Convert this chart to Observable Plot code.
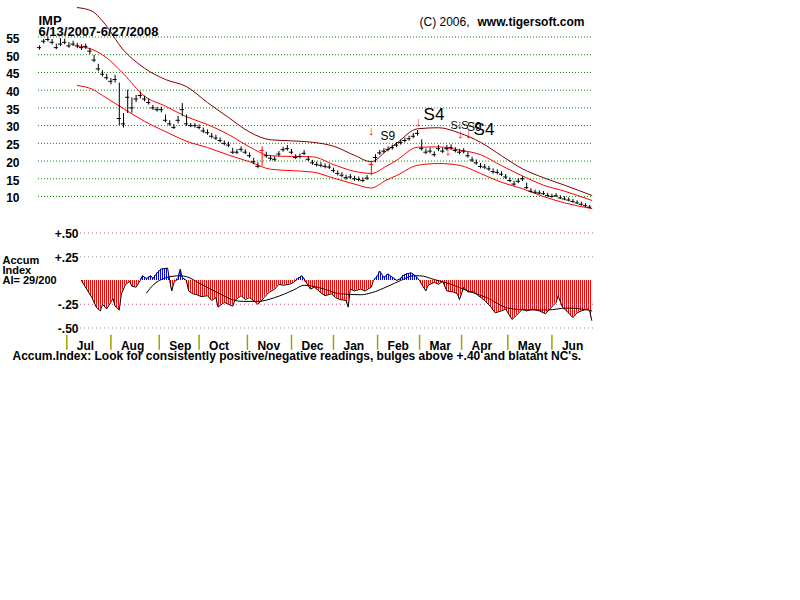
<!DOCTYPE html>
<html><head><meta charset="utf-8">
<script src="https://cdn.jsdelivr.net/npm/d3@7"></script>
<script src="https://cdn.jsdelivr.net/npm/@observablehq/plot@0.6"></script>
<style>
body{margin:0;background:#fff;}
#wrap{position:relative;width:800px;height:600px;overflow:hidden;background:#fff;}
#wrap svg{position:absolute;left:0;top:0;}
</style></head><body><div id="wrap"></div>
<script>
// ---- price data: one bar every 2 trading days, day index = 2*k (day 0 = 6/13/2007)
const closes = [
52,53.8,54.3,53.5,52,53,53.5,52.5,53,52.5,
52,52.3,51,48.5,46,44.5,43.5,42.5,43,32,
30.5,38,35,37.5,38.5,37.5,36.5,35,34.5,34.5,
31.5,30.5,29.5,31.5,34.5,30.5,30,30,29.5,28.5,
28,27,26.5,25.8,25,24.5,22.5,22.5,23.3,22.5,
21.5,19.8,18.5,23,21.5,20.8,20.5,22,23.2,23.5,
22.5,21,21.3,22.2,20.5,19.5,19,18.8,18.5,18.3,
17.3,16.5,16,15.3,15.5,15,14.8,14.5,15.2,19,
21,22.3,22.8,23.3,23.8,24.5,25.2,25.8,26.3,27,
27.8,23.5,22.5,22.8,21.8,23.5,22.8,23.5,23.8,23,
22.5,22.8,21.5,20.3,19.5,18.5,18.3,17.8,17,16.8,
16.3,15.5,14.5,13.5,14.3,15,12.5,11.5,11.2,11,
10.8,10.3,10,10.2,9.6,9.3,9,8.6,8.2,7.8,
7.4,7];
const highs = [
52.5,54.3,55,54.3,53,54.5,54.4,53.4,53.8,53.2,
52.8,53,51.8,49.8,47.3,45.5,44.5,43.3,44.2,42,
33.4,40,37.8,38.5,39.5,38.3,37.5,35.7,35.2,35.2,
33,31.4,30.3,32.6,36.2,33,30.6,30.6,30.2,29.3,
28.8,27.8,27.3,26.5,25.7,25.3,23.6,23.2,24,23.2,
22.3,20.8,19.5,24,22.5,21.5,21.2,22.7,23.9,24.4,
23.3,21.8,22,23,21.3,20.2,19.7,19.5,19.2,19,
18,17.2,16.7,16,16.2,15.7,15.5,15.2,15.9,19.8,
21.8,23,23.5,24,24.5,25.2,25.9,26.5,27,27.8,
28.6,26,23.4,23.6,22.6,24.4,23.6,24.4,24.6,23.8,
23.3,23.5,22.4,21.1,20.3,19.3,19,18.5,17.8,17.5,
17,16.2,15.3,14.3,15,15.6,13.8,12.2,11.8,11.6,
11.4,10.9,10.6,10.8,10.2,9.9,9.6,9.2,8.8,8.4,
8,7.5];
const lows = [
51.3,53,53.6,52.8,51.4,52.3,52.8,51.8,52.3,51.7,
51.2,51.5,50,47.8,45.2,43.7,42.8,41.5,42,30,
29.3,33.4,33.5,36.5,37.5,36.7,35.8,34.3,33.8,33.6,
30.8,29.8,28.9,30.5,32.5,29.8,29.4,29.3,28.8,27.8,
27.3,26.3,25.8,25.1,24.3,23.8,21.9,21.8,22.5,21.8,
20.8,19,17.8,18.5,20.8,20,19.8,21.2,22.5,22.8,
21.8,20.4,20.6,21.5,19.8,18.8,18.3,18.1,17.8,17.6,
16.6,15.8,15.3,14.6,14.8,14.3,14.1,13.9,14.5,15.8,
19.5,21.6,22.1,22.6,23.1,23.8,24.5,25.1,25.6,26.3,
27,22.8,21.8,22,21.1,22.7,22.1,22.8,23,22.3,
21.8,22,20.8,19.6,18.8,17.8,17.6,17.1,16.3,16.1,
15.6,14.8,13.9,12.9,13.6,14.2,12,11,10.7,10.5,
10.3,9.8,9.5,9.7,9.1,8.8,8.5,8.1,7.7,7.3,
6.9,6.5];
const redBars = [53, 79];

// ---- bands
const bandDay   = [18,25,30,40,50,60,70,80,90,100,110,120,130,140,150,158,165,170,180,190,200,210,220,230,240,250,263];
const upperBand = [63.3,62.3,59.5,51.3,46.2,43,41,36.5,32.3,28.2,26,25.7,25.3,24.2,21.6,19.8,22.8,25,29.1,29.4,27.9,25.3,21.5,17.8,15.3,13.2,10.3];
const midBand   = [52.5,51.5,50,44.6,38.3,35.5,32.5,30.3,27.5,24,21.5,21.3,21.2,19,17.1,16.5,18.5,20.2,23.9,24,23.1,21.8,18.7,15.8,13.2,11.5,8.9];
const lowerBand = [41.3,40.3,38.5,34.8,31.2,28.3,25.6,23.8,21.7,19.8,17.7,17.3,16.9,15.2,13.5,12.4,14.6,15.9,18.8,19.3,18.8,16.5,14,12.2,10,8.2,6.6];

const priceTicks = [10,15,20,25,30,35,40,45,50,55];

// ---- signals
const arrowDay   = [158, 180.5, 194.5, 200.5, 204.3];
const arrowPrice = [28.6, 31.2, 23, 27.6, 27.6];
const sigText  = ["S9","S4","S","\u2193","S","S9","S4"];
const sigDay   = [162.4,182.9,195.7,198.6,200.8,203.6,206.7];
const sigPrice = [26.9,33.1,30.1,30.1,30.1,29.7,29];
const sigSize  = [12,17,11,12,11,12,17];

// ---- accumulation index
const aiDay = [20,23,25,27,29,30,32,35,36,38,
39,41,43,44,46,48,49,51,53,54,
56,58,61,62,63,64,66,67,68,70,
71,73,75,77,80,82,84,85,88,90,
92,93,96,98,100,103,104,107,109,112,
114,116,119,121,123,125,127,129,131,134,
136,139,141,143,146,147,148,150,153,155,
158,159,161,162,164,166,167,169,170,172,
173,175,177,179,181,182,184,185,188,190,
192,194,197,199,200,202,204,207,209,212,
215,217,220,222,225,227,230,232,235,238,
241,243,246,247,249,251,254,256,258,261,
262,263];
const aiVal = [0,-0.11,-0.18,-0.28,-0.32,-0.25,-0.30,-0.19,-0.27,-0.31,
-0.14,-0.04,-0.01,-0.06,-0.07,0,0.05,0.02,0.05,0.02,
0.08,0.12,0.13,0,-0.11,-0.02,0.02,0.12,0.03,0,
-0.11,-0.14,-0.15,-0.17,-0.16,-0.21,-0.18,-0.28,-0.23,-0.25,
-0.27,-0.21,-0.16,-0.20,-0.18,-0.23,-0.25,-0.18,-0.13,-0.09,
-0.04,-0.05,-0.04,-0.02,0.02,0.05,-0.02,-0.09,-0.07,-0.13,
-0.16,-0.14,-0.18,-0.20,-0.21,-0.28,-0.09,-0.11,-0.09,-0.11,
-0.07,0,0.05,0.10,0.03,0.07,0.05,0.02,0,0.02,
0.05,0.07,0.08,0.05,0,-0.04,-0.11,-0.05,-0.02,-0.04,
-0.01,-0.11,-0.12,-0.14,-0.20,-0.07,-0.12,-0.12,-0.16,-0.21,
-0.28,-0.34,-0.32,-0.30,-0.41,-0.37,-0.30,-0.32,-0.30,-0.32,
-0.35,-0.30,-0.23,-0.16,-0.28,-0.32,-0.39,-0.34,-0.32,-0.30,
-0.32,-0.42];
const aiMaDay = [51,54,58,62,67,70,77,85,93,97,104,112,121,126,134,143,153,158,166,172,178,181,188,196,204,213,223,232,242,251,261,263];
const aiMaVal = [-0.13,-0.05,0.01,0.04,0.05,0.04,-0.04,-0.13,-0.21,-0.22,-0.22,-0.18,-0.10,-0.05,-0.08,-0.14,-0.15,-0.13,-0.06,0,0.05,0.05,0.01,-0.04,-0.11,-0.18,-0.29,-0.31,-0.31,-0.29,-0.31,-0.32];
const aiTicks = [0.5, 0.25, -0.25, -0.5];
const aiTickLabels = ["+.50", "+.25", "-.25", "-.50"];
const aiGridColor = ["#c04890", "#909090", "#c04890", "#909090"];

// ---- months
const monthDay = [13,34,57,76,99,120,140,161,181,201,223,244];
const monthLabel = ["Jul","Aug","Sep","Oct","Nov","Dec","Jan","Feb","Mar","Apr","May","Jun"];

// ---------------------------------------------------------------
const FONT = "'Liberation Sans', Arial, sans-serif";
const X = {type: "linear", domain: [0, 263], range: [39, 591.3], axis: null};

const bars = closes.map((c, k) => ({day: k * 2, c, h: highs[k], l: lows[k], red: redBars.includes(k)}));
const bands = bandDay.map((d, i) => ({day: d, u: upperBand[i], m: midBand[i], l: lowerBand[i]}));
const arrows = arrowDay.map((d, i) => ({day: d, p: arrowPrice[i]}));
const sigs = sigText.map((t, i) => ({t, day: sigDay[i], p: sigPrice[i], s: sigSize[i]}));
const ai = aiDay.map((d, i) => ({day: d, v: aiVal[i]}));
const aiMa = aiMaDay.map((d, i) => ({day: d, v: aiMaVal[i]}));
const aiGrid = aiTicks.map((v, i) => ({v, lab: aiTickLabels[i], col: aiGridColor[i]}));

function label(t, x, y, size, weight = "bold", anchor = "start", extra = {}) {
  return Plot.text([t], {text: d => d, frameAnchor: "top-left", dx: x, dy: y, fontSize: size,
    fontWeight: weight, textAnchor: anchor, lineAnchor: "bottom", fill: "black", ...extra});
}

// ---- bottom layer: accumulation index panel
const aiPlot = Plot.plot({
  width: 800, height: 600, margin: 0,
  style: {background: "transparent", fontFamily: FONT},
  x: X,
  y: {type: "linear", domain: [-0.5, 0.5], range: [327.5, 232.5], axis: null},
  marks: [
    Plot.areaY(ai, {x: "day", y1: 0, y2: d => Math.min(d.v, 0), fill: "url(#stripeRed)"}),
    Plot.areaY(ai, {x: "day", y1: 0, y2: d => Math.max(d.v, 0), fill: "url(#stripeBlue)"}),
    ...aiGrid.map(g => Plot.ruleY([g.v], {x1: 19.5, x2: 265, stroke: g.col, strokeWidth: 1, strokeDasharray: "1,3"})),
    Plot.text(aiGrid, {y: "v", text: "lab", frameAnchor: "left", dx: 78, dy: 1, textAnchor: "end",
      fontSize: 12, fontWeight: "bold", fill: "black"}),
    Plot.line(ai, {x: "day", y: "v", stroke: "black", strokeWidth: 1}),
    Plot.line(aiMa, {x: "day", y: "v", stroke: "black", strokeWidth: 1, curve: "monotone-x"}),
    Plot.ruleX(monthDay, {x: d => d, y1: -0.576, y2: -0.735, stroke: "#a0a000", strokeWidth: 1.5}),
    Plot.text(monthDay, {x: d => d, frameAnchor: "top", dy: 349.5, dx: 10, text: (d, i) => monthLabel[i],
      textAnchor: "start", lineAnchor: "bottom", fontSize: 12, fontWeight: "bold", fill: "black"})
  ]
});
d3.select(aiPlot).insert("defs", ":first-child").html(
  '<pattern id="stripeRed" patternUnits="userSpaceOnUse" x="0" y="0" width="2" height="4">' +
  '<rect x="0" y="0" width="1" height="4" fill="#ff0000"/></pattern>' +
  '<pattern id="stripeBlue" patternUnits="userSpaceOnUse" x="0" y="0" width="2" height="4">' +
  '<rect x="0" y="0" width="1" height="4" fill="#0000ff"/></pattern>');

// ---- top layer: price panel + texts
const pricePlot = Plot.plot({
  width: 800, height: 600, margin: 0,
  style: {background: "transparent", fontFamily: FONT},
  x: X,
  y: {type: "linear", domain: [10, 55], range: [196, 36.5], axis: null},
  marks: [
    Plot.ruleY(priceTicks, {y: d => d, x1: -0.5, x2: 263.5, stroke: "#008000", strokeWidth: 1, strokeDasharray: "1,2"}),
    Plot.text(priceTicks, {y: d => d, text: d => String(d), frameAnchor: "left", dx: 19, dy: 2,
      textAnchor: "end", fontSize: 12, fontWeight: "bold", fill: "black"}),
    Plot.line(bands, {x: "day", y: "u", stroke: "#800000", strokeWidth: 1, curve: "monotone-x"}),
    Plot.line(bands, {x: "day", y: "m", stroke: "#ff0000", strokeWidth: 1, curve: "monotone-x"}),
    Plot.line(bands, {x: "day", y: "l", stroke: "#ff0000", strokeWidth: 1, curve: "monotone-x"}),
    Plot.ruleX(bars.filter(d => !d.red), {x: "day", y1: "l", y2: "h", stroke: "black", strokeWidth: 1}),
    Plot.ruleX(bars.filter(d => d.red), {x: "day", y1: "l", y2: "h", stroke: "#ff0000", strokeWidth: 1}),
    Plot.ruleY(bars.filter(d => !d.red), {y: "c", x1: d => d.day - 1, x2: d => d.day + 1, stroke: "black", strokeWidth: 1}),
    Plot.ruleY(bars.filter(d => d.red), {y: "c", x1: d => d.day - 1, x2: d => d.day + 1, stroke: "#ff0000", strokeWidth: 1}),
    Plot.text(arrows, {x: "day", y: "p", text: () => "\u2193", fill: "#ff0000", fontSize: 13}),
    Plot.text(sigs, {x: "day", y: "p", text: "t", fontSize: "s", textAnchor: "start", fill: "black"}),
    label("IMP", 38, 24.5, 13),
    label("6/13/2007-6/27/2008", 38, 35.5, 13),
    label("(C) 2006,", 419, 25, 12, "normal"),
    label("www.tigersoft.com", 477, 25, 12),
    label("Accum", 2, 263, 11),
    label("Index", 2, 273, 11),
    label("AI= 29/200", 2, 283, 11),
    label("Accum.Index: Look for consistently positive/negative readings, bulges above +.40 and blatant NC's.", 12, 359, 12)
  ]
});

document.getElementById("wrap").append(aiPlot, pricePlot);
</script></body></html>
